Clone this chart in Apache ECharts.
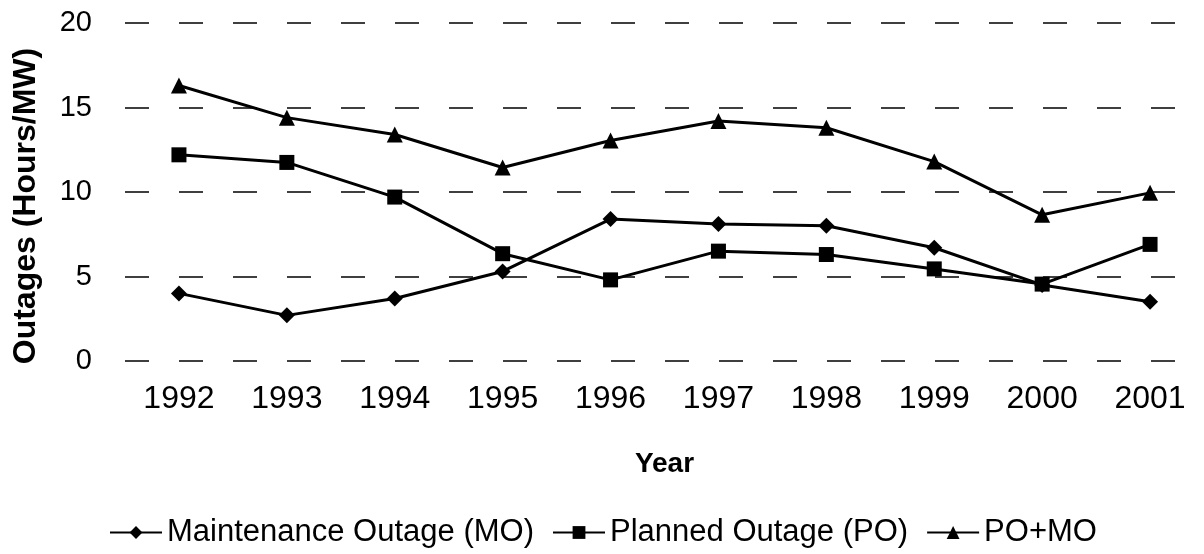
<!DOCTYPE html>
<html>
<head>
<meta charset="utf-8">
<script src="https://cdn.jsdelivr.net/npm/echarts@6/dist/echarts.min.js"></script>
<style>
  html, body { margin: 0; padding: 0; background: #fff; }
  #chart { width: 1204px; height: 554px; }
</style>
</head>
<body>
<div id="chart"></div>
<script>
var years = ['1992', '1993', '1994', '1995', '1996', '1997', '1998', '1999', '2000', '2001'];
var moValues = [4.0, 2.7, 3.7, 5.3, 8.4, 8.1, 8.0, 6.7, 4.5, 3.5];
var poValues = [12.2, 11.75, 9.7, 6.35, 4.8, 6.5, 6.3, 5.45, 4.55, 6.9];
var sumValues = [16.3, 14.4, 13.4, 11.45, 13.05, 14.2, 13.8, 11.8, 8.65, 9.95];
var yTicks = [0, 5, 10, 15, 20];

var font = 'Liberation Sans, Arial, sans-serif';

function lineSeries(name, data, symbol, size) {
    return {
        name: name,
        type: 'line',
        data: data,
        symbol: symbol,
        symbolSize: size,
        lineStyle: { color: '#000', width: 3 },
        itemStyle: { color: '#000' },
        animation: false
    };
}

var chart = echarts.init(document.getElementById('chart'));
var option = {
    backgroundColor: '#fff',
    grid: { left: 125, top: 23, width: 1092, height: 338 },
    legend: {
        left: 104,
        top: 512,
        itemWidth: 52,
        itemHeight: 16,
        itemGap: 18,
        textStyle: { fontFamily: font, fontSize: 31, color: '#000' },
        data: ['Maintenance Outage (MO)', 'Planned Outage (PO)', 'PO+MO']
    },
    xAxis: {
        type: 'category',
        data: years,
        boundaryGap: true,
        name: 'Year',
        nameLocation: 'middle',
        nameGap: 89,
        nameTextStyle: { fontFamily: font, fontSize: 28, fontWeight: 'bold', color: '#000' },
        axisLine: { show: false },
        axisTick: { show: false },
        axisLabel: { fontFamily: font, fontSize: 32, color: '#000', margin: 22 }
    },
    yAxis: {
        type: 'value',
        min: yTicks[0],
        max: yTicks[yTicks.length - 1],
        interval: 5,
        name: 'Outages (Hours/MW)',
        nameLocation: 'middle',
        nameGap: 83,
        nameTextStyle: { fontFamily: font, fontSize: 32, fontWeight: 'bold', color: '#000', padding: [0, 28, 0, 0] },
        axisLine: { show: false },
        axisTick: { show: false },
        axisLabel: { fontFamily: font, fontSize: 29, color: '#000', margin: 33 },
        splitLine: { lineStyle: { color: '#000', width: 1.5, type: [24, 30] } }
    },
    series: [
        lineSeries('Maintenance Outage (MO)', moValues, 'diamond', 16),
        lineSeries('Planned Outage (PO)', poValues, 'rect', 15),
        lineSeries('PO+MO', sumValues, 'triangle', 16)
    ]
};
chart.setOption(option);
</script>
</body>
</html>
